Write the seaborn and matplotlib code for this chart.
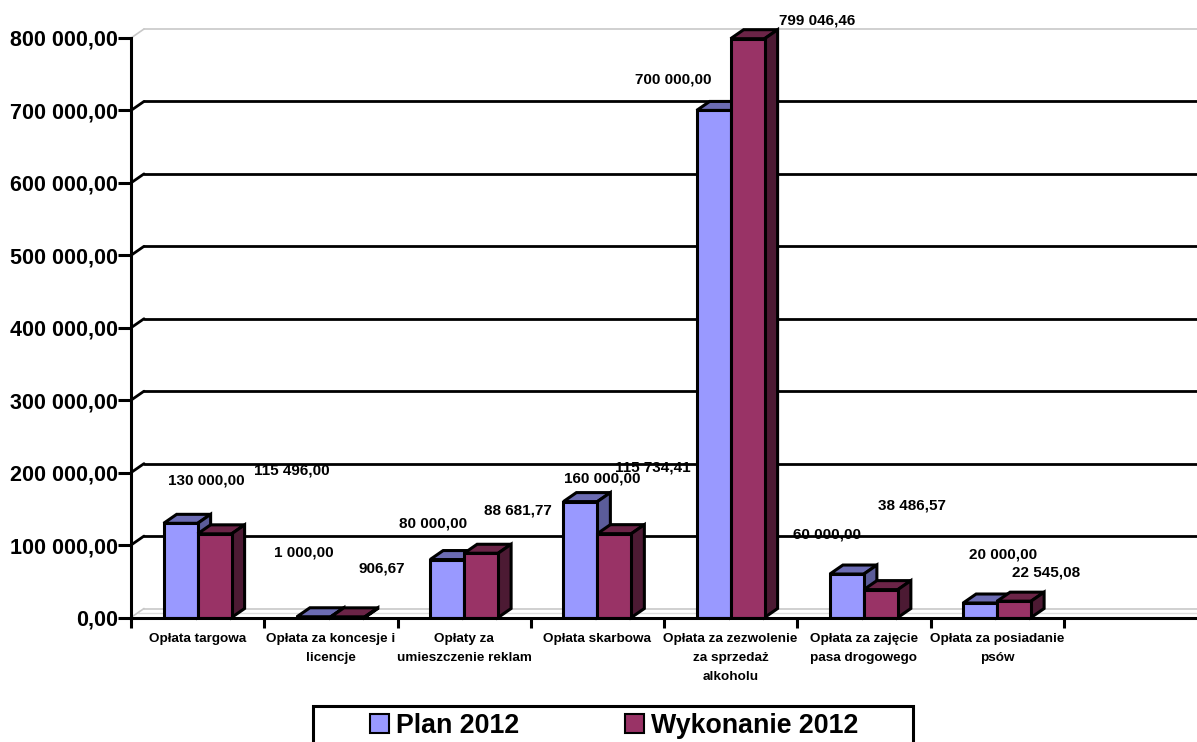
import matplotlib.pyplot as plt
import pandas as pd
import seaborn as sns
from matplotlib.patches import Patch, Polygon, Rectangle

categories = [
    "Opłata targowa",
    "Opłata za koncesje i\nlicencje",
    "Opłaty za\numieszczenie reklam",
    "Opłata skarbowa",
    "Opłata za zezwolenie\nza sprzedaż\nalkoholu",
    "Opłata za zajęcie\npasa drogowego",
    "Opłata za posiadanie\npsów",
]
plan_2012 = [130000.00, 1000.00, 80000.00, 160000.00, 700000.00, 60000.00, 20000.00]
wykonanie_2012 = [115496.00, 906.67, 88681.77, 115734.41, 799046.46, 38486.57, 22545.08]
y_ticks = [0, 100000, 200000, 300000, 400000, 500000, 600000, 700000, 800000]


def pl_format(v):
    return f"{v:,.2f}".replace(",", " ").replace(".", ",")


# etykiety sa porozrzucane jak w oryginale, przesuniecia w pikselach od wierzcholka slupka
plan_offsets = [(26, 43), (-10, 64), (-14, 36), (22, 23), (-40, 31), (-20, 40), (23, 49)]
wyk_offsets = [(77, 63), (34, 48), (37, 43), (38, 66), (70, 18), (31, 84), (32, 29)]

W, H = 1197, 742
DEPTH_X, DEPTH_Y = 13, 9

sns.set_style("white")
plt.rcParams["font.family"] = ["Liberation Sans", "DejaVu Sans"]
plt.rcParams["font.weight"] = "bold"
plt.rcParams["text.color"] = "black"
plt.rcParams["xtick.labelcolor"] = "black"
plt.rcParams["ytick.labelcolor"] = "black"

df = pd.DataFrame(
    {
        "kategoria": categories * 2,
        "seria": ["Plan 2012"] * 7 + ["Wykonanie 2012"] * 7,
        "wartosc": plan_2012 + wykonanie_2012,
    }
)

fig = plt.figure(figsize=(W / 100, H / 100), dpi=100)
ax = fig.add_axes([131 / W, 1 - 617.5 / H, 1066 / W, 579.5 / H])

sns.barplot(
    data=df,
    x="kategoria",
    y="wartosc",
    hue="seria",
    order=categories + [""],
    hue_order=["Plan 2012", "Wykonanie 2012"],
    palette=["#9999FF", "#993366"],
    width=0.51,
    edgecolor="black",
    linewidth=2.2,
    saturation=1,
    legend=False,
    ax=ax,
)
ax.set_xlim(-0.5, 7.5)
ax.set_ylim(0, 800000)
ax.set_xlabel("")
ax.set_ylabel("")

dx = DEPTH_X / (1066 / 8)
dy = DEPTH_Y / (579.5 / 800000)

# sciana tylna
for v in y_ticks:
    color = "#C8C8C8" if v in (0, 800000) else "black"
    lw = 1.2 if v in (0, 800000) else 2
    ax.plot([-0.5, -0.5 + dx], [v, v + dy], color=color, lw=lw, clip_on=False, zorder=1)
    ax.plot([-0.5 + dx, 7.5], [v + dy, v + dy], color=color, lw=lw, clip_on=False, zorder=1)
ax.plot([-0.5 + dx / 2, 7.5], [dy / 2, dy / 2], color="#DDDDDD", lw=1, zorder=1)

# boki i gora slupkow
shades = [("#6C6CB3", "#5B5C99"), ("#6B2447", "#4C1A33")]
for n, (bars, offsets) in enumerate(zip(ax.containers, [plan_offsets, wyk_offsets])):
    top_col, side_col = shades[n]
    for bar, off in zip(bars, offsets):
        x0, x1 = bar.get_x(), bar.get_x() + bar.get_width()
        h = bar.get_height()
        bar.set_zorder(3 + 2 * n)
        top = [(x0, h), (x0 + dx, h + dy), (x1 + dx, h + dy), (x1, h)]
        side = [(x1, 0), (x1 + dx, dy), (x1 + dx, h + dy), (x1, h)]
        for pts, col in [(top, top_col), (side, side_col)]:
            ax.add_patch(
                Polygon(pts, closed=True, facecolor=col, edgecolor="black", lw=2.2,
                        joinstyle="miter", clip_on=False, zorder=2 + 2 * n)
            )
        ax.annotate(
            pl_format(h),
            xy=((x0 + x1) / 2, h),
            xytext=off,
            textcoords="offset pixels",
            ha="center",
            va="center",
            fontsize=11,
            fontweight="bold",
            color="black",
            annotation_clip=False,
            zorder=8,
        )

for name in ["top", "right"]:
    ax.spines[name].set_visible(False)
for name in ["left", "bottom"]:
    ax.spines[name].set_linewidth(2.2)
    ax.spines[name].set_color("black")
    ax.spines[name].set_zorder(7)

ax.set_yticks(y_ticks)
ax.set_yticklabels([pl_format(v) for v in y_ticks])
ax.tick_params(axis="y", left=True, length=9.5, width=2.2, labelsize=15.5, pad=0, color="black")

ax.set_xticks([i - 0.5 for i in range(8)], minor=True)
ax.set_xticks(range(8))
ax.set_xticklabels(categories + [""], fontsize=9.7, fontweight="bold", linespacing=1.78)
ax.tick_params(axis="x", which="major", bottom=False, length=0, pad=11)
ax.tick_params(axis="x", which="minor", bottom=True, length=7, width=2.2, color="black")

# ramka legendy ucieta dolem jak w oryginale
fig.add_artist(
    Rectangle((313 / W, -0.05), 600 / W, 0.05 + 1 - 706 / H, transform=fig.transFigure,
              facecolor="white", edgecolor="black", lw=2.2)
)
handles = [
    Patch(facecolor="#9999FF", edgecolor="black", lw=1.5, label="Plan 2012"),
    Patch(facecolor="#993366", edgecolor="black", lw=1.5, label="Wykonanie 2012"),
]
fig.legend(
    handles=handles,
    loc="center left",
    bbox_to_anchor=(370 / W, 1 - 726 / H),
    ncol=2,
    frameon=False,
    borderpad=0,
    borderaxespad=0,
    fontsize=19.3,
    handlelength=0.72,
    handleheight=0.72,
    handletextpad=0.25,
    columnspacing=3.95,
)

fig.savefig("out.png", dpi=100)
